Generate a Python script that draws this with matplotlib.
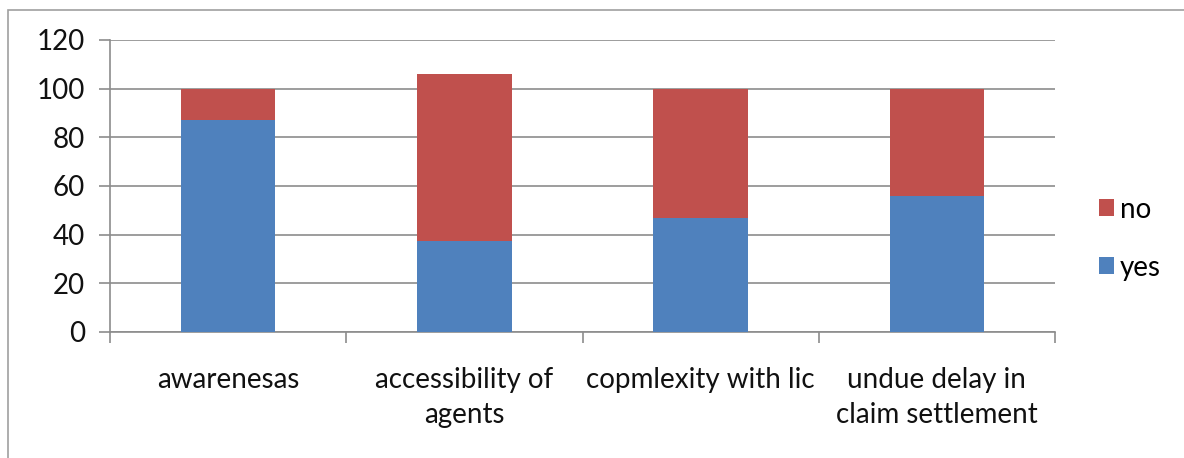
import matplotlib
matplotlib.use("Agg")
import matplotlib.pyplot as plt
from matplotlib.patches import Rectangle

categories = ["awarenesas", "accessibility of\nagents", "copmlexity with lic",
              "undue delay in\nclaim settlement"]
yes_vals = [87, 37.5, 47, 56]
no_vals = [13, 68.5, 53, 44]

BLUE = "#4F81BD"
RED = "#C0504D"
GRID = "#8C8C8C"
TEXT = "#111111"

plt.rcParams["font.family"] = ["Lato", "DejaVu Sans"]

fig = plt.figure(figsize=(11.84, 4.58), dpi=100)
ax = fig.add_axes([110 / 1184, 1 - 332 / 458, 945 / 1184, 292 / 458])

# outer chart frame
fig.patches.append(Rectangle((8 / 1184, -0.1), 1.2, 1 - 10 / 458 + 0.1,
                             transform=fig.transFigure, fill=False,
                             edgecolor="#A0A0A0", linewidth=1.2))

x = list(range(len(categories)))
ax.bar(x, yes_vals, width=0.4, color=BLUE, label="yes", zorder=3)
ax.bar(x, no_vals, width=0.4, bottom=yes_vals, color=RED, label="no", zorder=3)

ax.set_xlim(-0.5, len(categories) - 0.5)
ax.set_ylim(0, 120)
ax.set_yticks(range(0, 121, 20))
ax.yaxis.grid(True, color=GRID, linewidth=1.2, zorder=0)
ax.set_axisbelow(True)

for side in ["top", "right"]:
    ax.spines[side].set_visible(False)
ax.spines["left"].set_color(GRID)
ax.spines["bottom"].set_color(GRID)
ax.spines["left"].set_linewidth(1.2)
ax.spines["bottom"].set_linewidth(1.2)

# category boundaries carry the x tick marks
ax.set_xticks([i - 0.5 for i in range(len(categories) + 1)], minor=False)
ax.set_xticklabels([])
ax.set_xticks(x, minor=True)
ax.set_xticklabels(categories, minor=True, fontsize=20, color=TEXT,
                   linespacing=1.45)
ax.tick_params(axis="x", which="major", direction="out", length=8,
               color=GRID, width=1.2)
ax.tick_params(axis="x", which="minor", length=0, pad=25)
ax.tick_params(axis="y", direction="out", length=8, color=GRID, width=1.2,
               labelsize=20, labelcolor=TEXT, pad=10)

handles, labels = ax.get_legend_handles_labels()
ax.legend(handles[::-1], labels[::-1], loc="center left",
          bbox_to_anchor=(1.02, 0.32), frameon=False,
          handlelength=0.55, handleheight=0.55, handletextpad=0.2,
          labelspacing=1.15, prop={"size": 20})

fig.savefig("out.png", dpi=100)
